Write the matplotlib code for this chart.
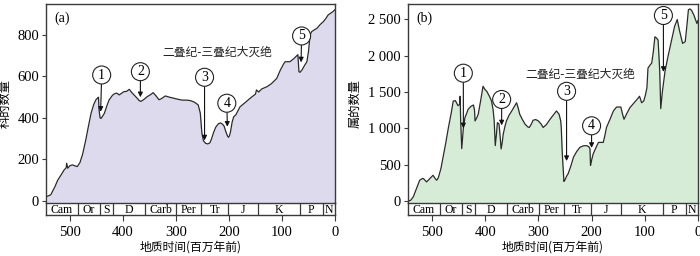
import matplotlib
matplotlib.use("Agg")
import matplotlib.pyplot as plt
import numpy as np

plt.rcParams['font.family'] = ['Liberation Serif', 'Noto Sans CJK SC', 'DejaVu Sans']

# ---------------- data ----------------
fam_ages = [543, 536, 528, 523, 516, 511, 507, 506, 504, 500, 495, 489, 486, 481, 476, 470, 465, 460, 455,
            451, 447, 446, 445, 443, 441, 438, 435, 430, 426, 420, 417, 412, 410, 407, 403, 398, 393, 388,
            384, 379, 373, 369, 366, 361, 354, 348, 343, 338, 332, 328, 320, 312, 304, 296, 288, 280, 273,
            265, 258, 254, 251, 248, 244, 240, 236, 233, 229, 225, 220, 216, 212, 209, 206, 203, 201, 199,
            197, 194, 191, 187, 183, 179, 170, 160, 150, 148, 146, 144, 138, 128, 120, 116, 110, 103, 97,
            94, 85, 78, 70, 68, 66, 62, 57, 53, 50, 47, 44, 38, 34, 28, 22, 17, 13, 8, 4, 0]
fam_counts = [22, 30, 70, 100, 128, 149, 160, 182, 158, 170, 174, 168, 166, 185, 225, 294, 360, 423, 465,
              487, 498, 500, 440, 400, 398, 410, 422, 460, 487, 508, 515, 520, 517, 511, 518, 527, 528, 538,
              525, 511, 495, 483, 480, 488, 503, 512, 522, 508, 488, 492, 506, 500, 495, 490, 486, 486, 484,
              476, 463, 423, 326, 290, 278, 275, 280, 298, 330, 355, 372, 376, 370, 360, 335, 315, 307, 314,
              334, 380, 406, 415, 435, 454, 473, 495, 515, 535, 530, 525, 540, 551, 565, 575, 590, 631, 660,
              671, 671, 685, 705, 623, 620, 632, 655, 671, 720, 800, 816, 826, 832, 850, 864, 880, 896, 905, 912, 922]

gen_ages = [545, 540, 535, 529, 523, 518, 516, 510, 505, 501, 498, 494, 491, 488, 483, 479, 474, 469, 464,
            460, 456, 454, 451, 448, 447, 446, 444, 441, 438, 435, 432, 427, 422, 420, 419, 416, 413, 408,
            404, 400, 397, 392, 388, 385, 383, 381, 379, 377, 374, 372, 370, 368, 366, 363, 360, 355, 350,
            345, 341, 338, 335, 330, 325, 320, 317, 313, 310, 305, 300, 295, 291, 285, 278, 272, 266, 261,
            258, 257, 255, 252, 250, 247, 244, 239, 234, 228, 222, 215, 209, 205, 203, 202, 200, 197, 192,
            187, 182, 178, 175, 172, 165, 159, 153, 149, 145, 142, 139, 134, 128, 120, 112, 110, 108, 106,
            102, 99, 96, 94, 90, 87, 84, 81, 78, 75, 72, 70, 67, 62, 56, 49, 44, 39, 35, 29, 24, 21, 18,
            15, 12, 8, 4, 2, 0]
gen_counts = [0, 10, 59, 172, 286, 310, 308, 263, 300, 331, 354, 310, 286, 320, 450, 603, 800, 1011, 1200,
              1374, 1380, 1351, 1310, 1330, 1440, 1100, 720, 1000, 1147, 1200, 1260, 1300, 1320, 1250, 1101,
              1140, 1192, 1400, 1577, 1530, 1508, 1440, 1374, 1250, 1101, 762, 900, 1078, 1060, 900, 716,
              800, 920, 1020, 1101, 1180, 1238, 1300, 1351, 1280, 1192, 1120, 1056, 1020, 1011, 1060, 1110,
              1120, 1101, 1060, 1011, 1050, 1124, 1180, 1238, 1192, 1100, 1011, 648, 270, 290, 340, 376,
              480, 603, 680, 738, 760, 761, 745, 716, 489, 560, 648, 730, 806, 806, 806, 900, 1011, 1130,
              1238, 1292, 1292, 1292, 1200, 1124, 1200, 1283, 1350, 1419, 1440, 1400, 1351, 1374, 1450,
              1555, 1827, 1870, 1895, 2050, 2257, 2240, 2212, 1800, 1270, 1500, 1782, 2000, 2235, 2400,
              2495, 2350, 2167, 2190, 2400, 2630, 2640, 2620, 2560, 2480, 2440, 2480]

period_names = ['Cam', 'Or', 'S', 'D', 'Carb', 'Per', 'Tr', 'J', 'K', 'P', 'N']
period_bounds = [545, 485, 443, 419, 359, 299, 252, 201, 145, 66, 23, 0]

event_labels = ['1', '2', '3', '4', '5']
# panel (a): arrow-head position and label position
fam_head_age = [442, 367, 246, 203, 64]
fam_head_val = [430, 500, 292, 358, 668]
fam_lab_age = [440, 367, 246, 204, 63]
fam_lab_val = [607, 623, 596, 471, 795]
# panel (b)
gen_head_age = [441, 369, 247, 200, 65]
gen_head_val = [1000, 1040, 550, 730, 1775]
gen_lab_age = [441, 369, 247, 200, 65]
gen_lab_val = [1757, 1396, 1508, 1034, 2550]

xticks = [500, 400, 300, 200, 100, 0]
fam_yticks = [0, 200, 400, 600, 800]
gen_yticks = [0, 500, 1000, 1500, 2000, 2500]
gen_yticklabels = ['0', '500', '1 000', '1 500', '2 000', '2 500']

event_text = '二叠纪-三叠纪大灭绝'

# ---------------- figure ----------------
W, H = 700, 256
fig = plt.figure(figsize=(7, 2.56), dpi=100)
edge = '#3a3a3a'


def panel(left_px, right_px, ages, vals, ymin, ymax, yticks, yticklabels, fill, ylabel, tag,
          head_age, head_val, lab_age, lab_val, txt_pos, ylab_x):
    top_px, mid_px, bot_px = 4, 203.3, 215
    ax = fig.add_axes([left_px / W, 1 - mid_px / H, (right_px - left_px) / W, (mid_px - top_px) / H])
    sax = fig.add_axes([left_px / W, 1 - bot_px / H, (right_px - left_px) / W, (bot_px - mid_px) / H])
    xmax = period_bounds[0]
    for a in (ax, sax):
        a.set_xlim(xmax, 0)
        for s in a.spines.values():
            s.set_color(edge)
            s.set_linewidth(1.0)
    ax.fill_between(ages, vals, ymin - 100, color=fill, lw=0)
    ax.plot(ages, vals, color='#2a2a2a', lw=0.9)
    ax.set_ylim(ymin, ymax)
    ax.spines['bottom'].set_visible(False)
    ax.set_xticks([])
    ax.set_yticks(yticks)
    ax.set_yticklabels(yticklabels, fontsize=10.5)
    ax.tick_params(axis='y', direction='out', length=3, width=0.8, color=edge, pad=2)
    ax.set_ylabel(ylabel, fontsize=8.8, family=['Noto Sans CJK SC'])
    ax.yaxis.set_label_coords((ylab_x - left_px) / (right_px - left_px), 0.5)
    ax.text(0.03, 0.96, tag, transform=ax.transAxes, ha='left', va='top', fontsize=10)
    ax.text(txt_pos[0], txt_pos[1], event_text, ha='center', va='center', fontsize=8.5,
            family=['Noto Sans CJK SC'], color='#222222')
    for lab, ha_, hv, la, lv in zip(event_labels, head_age, head_val, lab_age, lab_val):
        ax.annotate(lab, xy=(ha_, hv), xytext=(la, lv), ha='center', va='center', fontsize=10,
                    bbox=dict(boxstyle='circle,pad=0.18', fc='white', ec='#222222', lw=0.8),
                    arrowprops=dict(arrowstyle='-|>', color='#111111', lw=0.8, mutation_scale=7,
                                    shrinkA=0, shrinkB=0))
    # strip
    sax.set_ylim(0, 1)
    sax.set_yticks([])
    for b in period_bounds[1:-1]:
        sax.axvline(b, color=edge, lw=0.9)
    for name, a0, a1 in zip(period_names, period_bounds[:-1], period_bounds[1:]):
        sax.text((a0 + a1) / 2, 0.45, name, ha='center', va='center', fontsize=8.5)
    sax.set_xticks(xticks)
    sax.set_xticklabels([str(t) for t in xticks], fontsize=10.5)
    sax.tick_params(axis='x', direction='out', length=4, width=0.8, color=edge, pad=4)
    sax.set_xlabel('地质时间(百万年前)', fontsize=8.5, family=['Noto Sans CJK SC', 'DejaVu Sans'],
                   labelpad=1)
    return ax, sax


panel(46, 335, fam_ages, fam_counts, -11, 949, fam_yticks, [str(t) for t in fam_yticks],
      '#dddaee', '科的数量', '(a)', fam_head_age, fam_head_val, fam_lab_age, fam_lab_val,
      (222, 715), 12)
panel(408, 698, gen_ages, gen_counts, -31, 2708, gen_yticks, gen_yticklabels,
      '#d6ecd7', '属的数量', '(b)', gen_head_age, gen_head_val, gen_lab_age, gen_lab_val,
      (222, 1745), 362)

fig.savefig('out.png', dpi=100)
